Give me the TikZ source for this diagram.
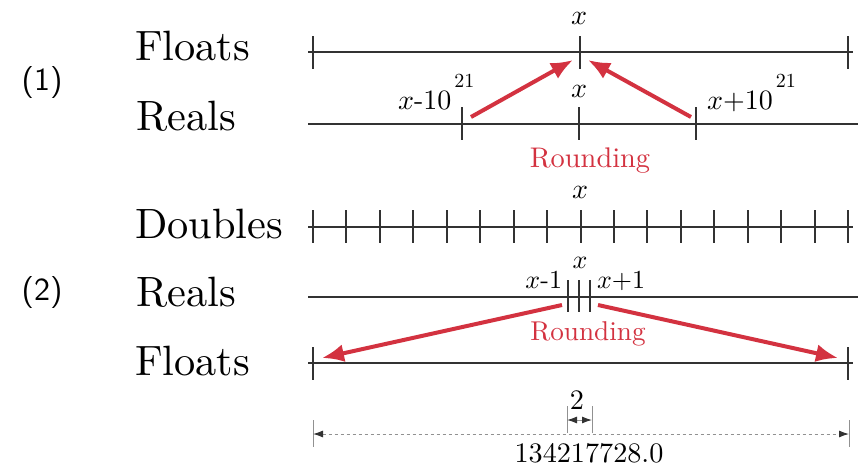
\documentclass[tikz,border=0pt]{standalone}
\usetikzlibrary{arrows.meta}
\definecolor{ink}{RGB}{50,50,50}
\definecolor{rnd}{RGB}{211,50,64}
\definecolor{dimgray}{RGB}{145,145,145}
\newcommand\sctext[2]{\scalebox{#1}{\fontsize{10}{12}\selectfont #2}}
\begin{document}
\begin{tikzpicture}[x=0.5pt,y=-0.5pt,
  axis/.style={draw=ink,line width=1pt},
  tickmark/.style={draw=ink,line width=1pt},
  txt/.style={inner sep=0pt,outer sep=0pt,text=black},
  rowname/.style={txt,anchor=base west},
  numlab/.style={txt},
  ticklab/.style={txt,anchor=base},
  rndlab/.style={txt,anchor=base,text=rnd},
  rndarrow/.style={draw=rnd,line width=2pt,-{Latex[length=11pt,width=9pt]}},
  dimext/.style={draw=dimgray,line width=0.5pt},
  dimarrow/.style={draw=dimgray,line width=0.5pt,{Latex[length=5pt,width=3.5pt,color=ink]}-{Latex[length=5pt,width=3.5pt,color=ink]}},
  dimlab/.style={txt,anchor=base}]
\useasboundingbox (0,0) rectangle (863,468);

% ---------- part (1) ----------
\node[numlab] (n1) at (42,82) {\sctext{1.6}{\sffamily (1)}};
\node[rowname] (floatsA) at (135,60) {\sctext{2.12}{Floats}};
\node[rowname] (realsA) at (136,130) {\sctext{2.12}{Reals}};

\coordinate (fAL) at (308,52);
\coordinate (fAR) at (853,52);
\draw[axis] (fAL) -- (fAR);
\foreach \x in {313,580,848} \draw[tickmark] (\x,36) -- (\x,69);
\coordinate (fAx) at (580,52);

\coordinate (rAL) at (308,124);
\coordinate (rAR) at (858,124);
\draw[axis] (rAL) -- (rAR);
\foreach \x in {462,579,696} \draw[tickmark] (\x,107) -- (\x,140);

\node[ticklab] (xA) at (579,24) {\sctext{1.4}{$x$}};
\node[ticklab] (xB) at (579,97) {\sctext{1.4}{$x$}};
\node[txt,anchor=base west] (xm) at (398,109) {\sctext{1.4}{$x$-10}\hspace{1.5pt}\raisebox{11pt}{\sctext{1.0}{21}}};
\node[txt,anchor=base west] (xp) at (707,109) {\sctext{1.4}{$x$+10}\hspace{1.5pt}\raisebox{11pt}{\sctext{1.0}{21}}};
\node[rndlab] (rndA) at (590,167) {\sctext{1.42}{Rounding}};

\coordinate (a1s) at (471,117);
\coordinate (a1t) at (573,60);
\coordinate (a2s) at (691,117);
\coordinate (a2t) at (588,60);
\draw[rndarrow] (a1s) -- (a1t);
\draw[rndarrow] (a2s) -- (a2t);

% ---------- part (2) ----------
\node[numlab] (n2) at (42,292) {\sctext{1.6}{\sffamily (2)}};
\node[rowname] (doubles) at (135,238) {\sctext{2.12}{Doubles}};
\node[rowname] (realsB) at (136,306) {\sctext{2.12}{Reals}};
\node[rowname] (floatsB) at (135,375) {\sctext{2.12}{Floats}};

\coordinate (dL) at (308,227);
\coordinate (dR) at (853,227);
\draw[axis] (dL) -- (dR);
\foreach \i in {0,...,16} \draw[tickmark] ({313+\i*33.4375},210) -- ({313+\i*33.4375},243);
\node[ticklab] (xC) at (580,198) {\sctext{1.4}{$x$}};

\coordinate (rBL) at (308,297);
\coordinate (rBR) at (858,297);
\draw[axis] (rBL) -- (rBR);
\foreach \x in {568,579,590} \draw[tickmark] (\x,280) -- (\x,312);
\node[txt,anchor=base] (xD) at (580,268) {\sctext{1.3}{$x$}};
\node[txt,anchor=base east] (xm1) at (562,288) {\sctext{1.3}{$x$-1}};
\node[txt,anchor=base west] (xp1) at (597,288) {\sctext{1.3}{$x$+1}};
\node[rndlab] (rndB) at (588,340) {\sctext{1.36}{Rounding}};

\coordinate (fBL) at (308,363);
\coordinate (fBR) at (853,363);
\draw[axis] (fBL) -- (fBR);
\foreach \x in {313,848} \draw[tickmark] (\x,347) -- (\x,380);

\coordinate (b1s) at (562,305);
\coordinate (b1t) at (322,358);
\coordinate (b2s) at (598,305);
\coordinate (b2t) at (838,358);
\draw[rndarrow] (b1s) -- (b1t);
\draw[rndarrow] (b2s) -- (b2t);

% ---------- dimensions ----------
\draw[dimext] (567,406) -- (567,433);
\draw[dimext] (592,406) -- (592,433);
\coordinate (s2L) at (567,420);
\coordinate (s2R) at (592,420);
\draw[dimarrow] (s2L) -- (s2R);
\node[dimlab] (two) at (577,409) {\sctext{1.41}{2}};

\draw[dimext] (313,420) -- (313,447);
\draw[dimext] (849,420) -- (849,447);
\coordinate (bigL) at (313,434);
\coordinate (bigR) at (849,434);
\draw[dimarrow,dash pattern=on 1.5pt off 1.5pt] (bigL) -- (bigR);
\node[dimlab] (big) at (589,462) {\sctext{1.41}{134217728.0}};
\end{tikzpicture}
\end{document}
